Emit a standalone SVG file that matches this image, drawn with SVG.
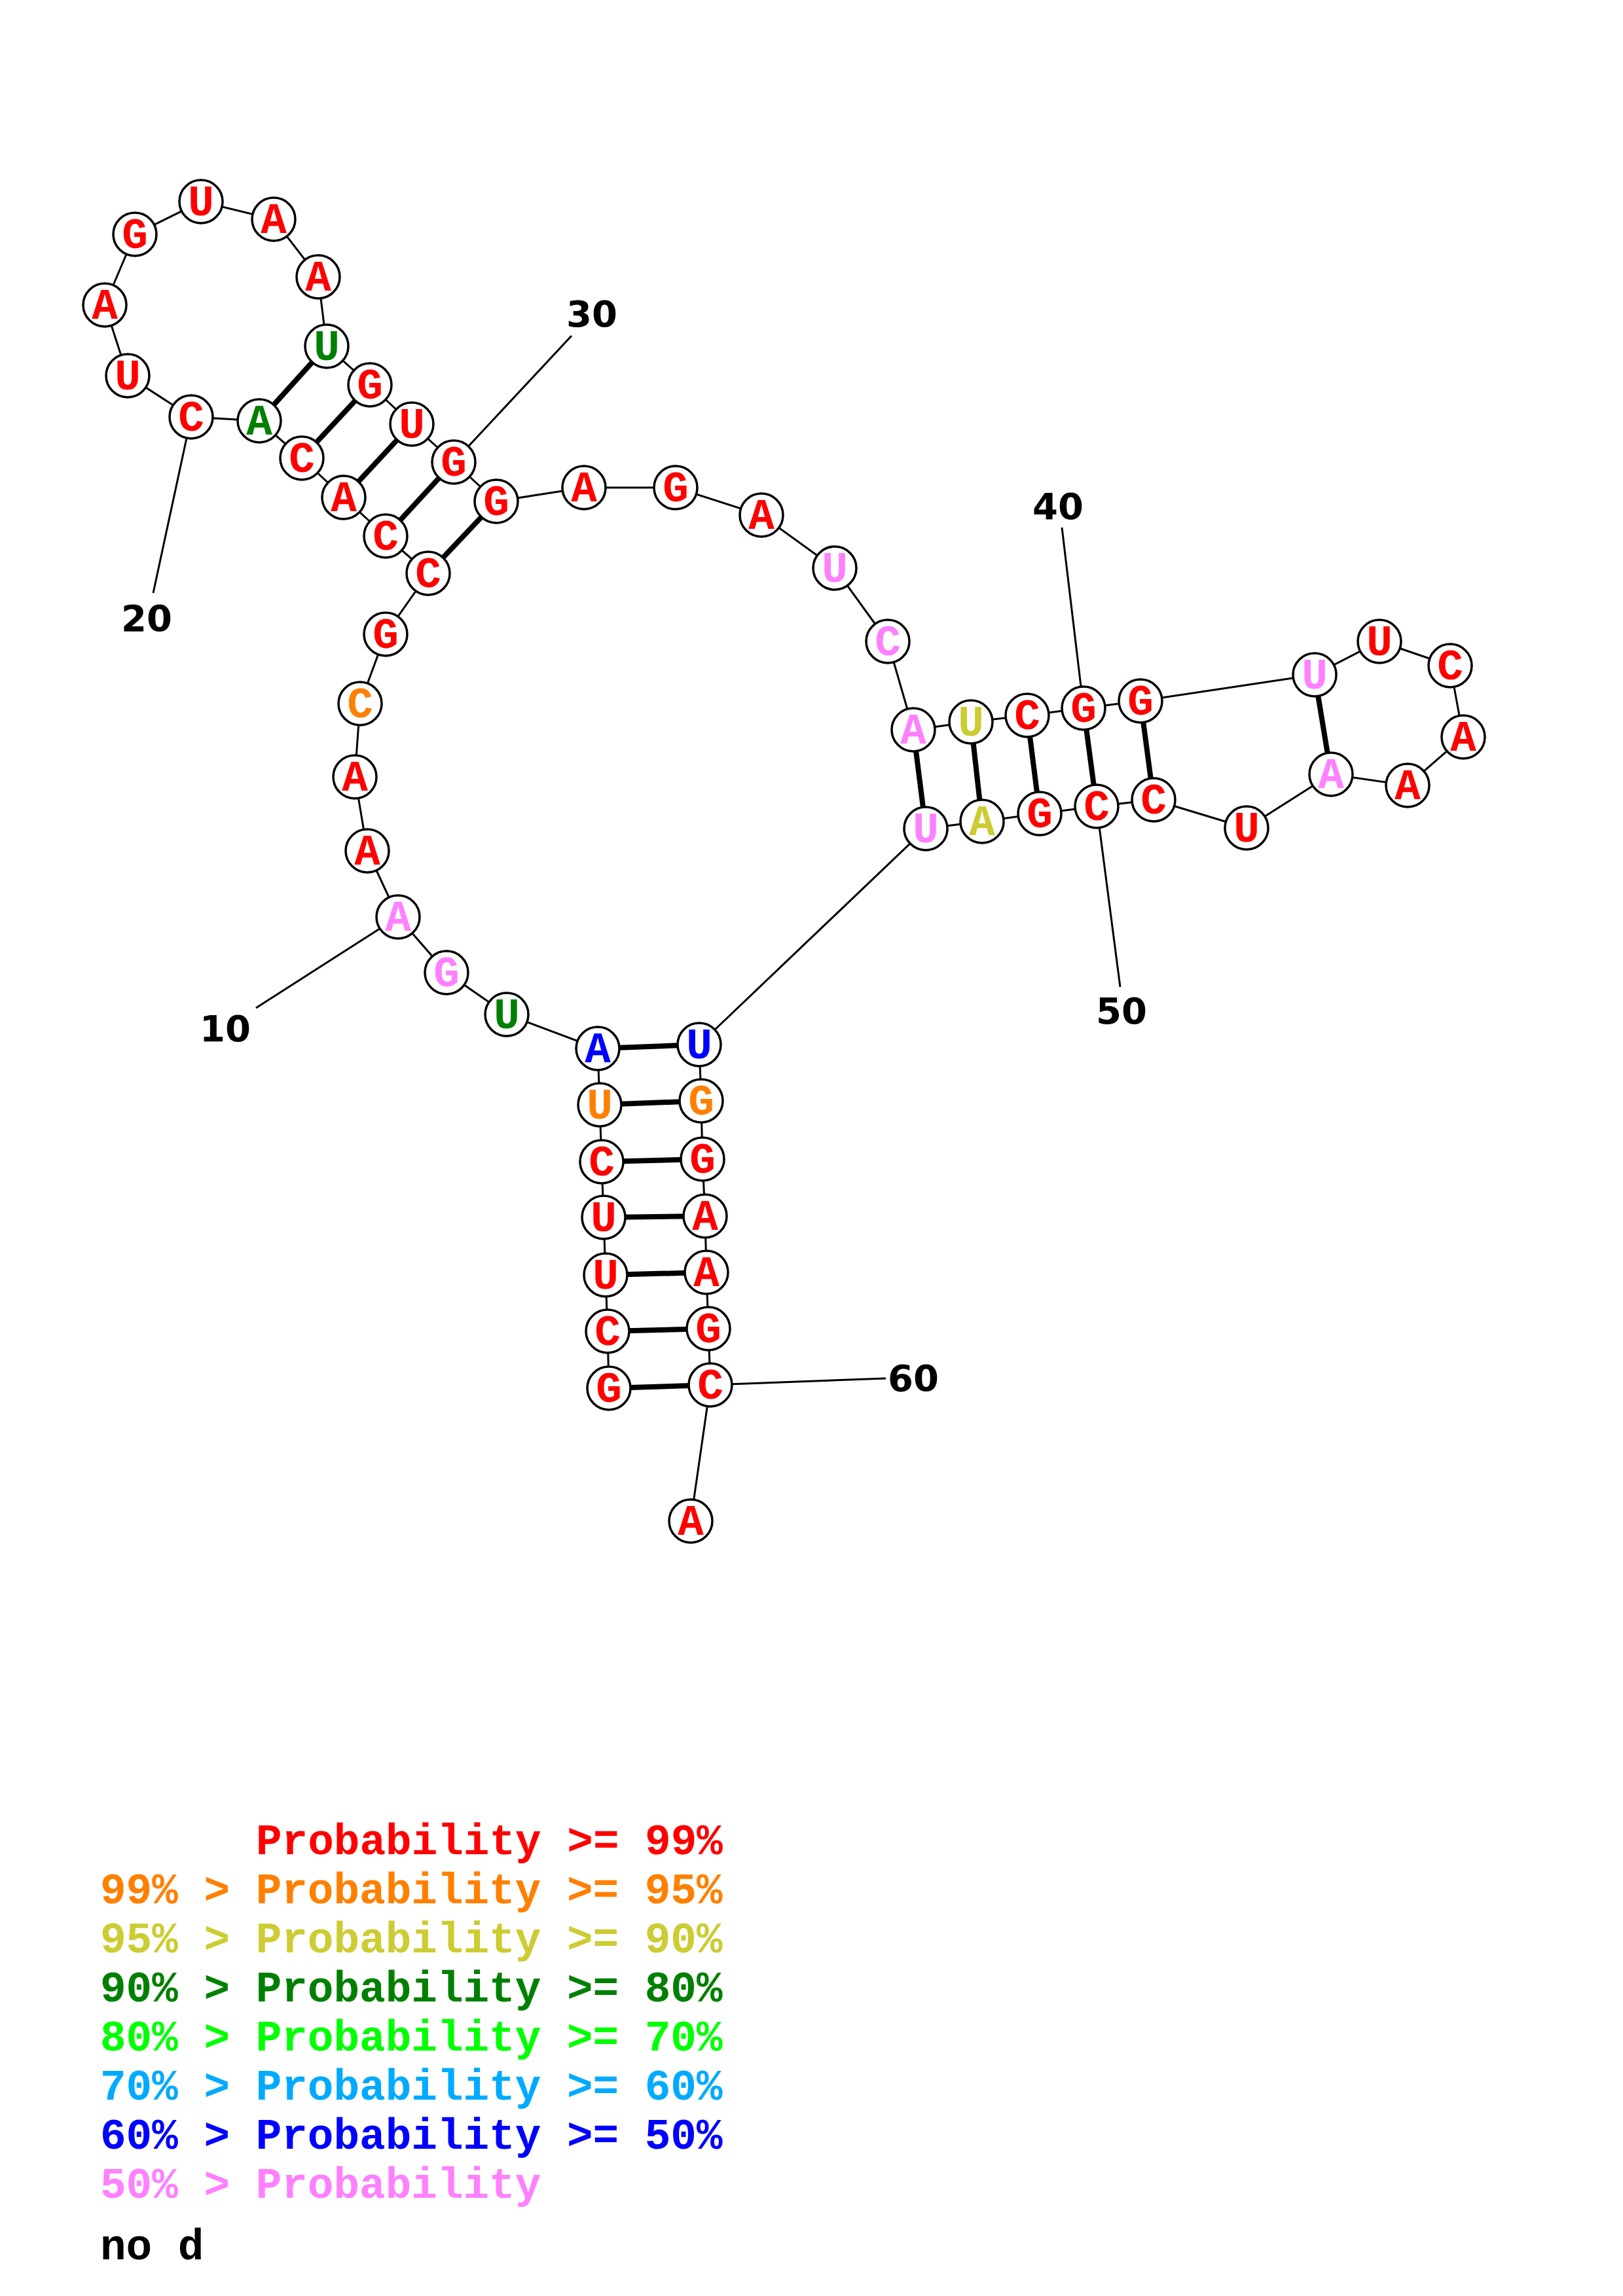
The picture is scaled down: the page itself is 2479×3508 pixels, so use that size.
<svg xmlns="http://www.w3.org/2000/svg" width="2479" height="3508" viewBox="0 0 2479 3508">
<style>
.bb{stroke:#000;stroke-width:3;fill:none}
.pr{stroke:#000;stroke-width:8;fill:none}
.tk{stroke:#000;stroke-width:3;fill:none}
.nd circle{fill:#fff;stroke:#000;stroke-width:3.5}
.nd text{font-family:"Courier New","Nimbus Mono PS","Nimbus Mono L",FreeMono,"Liberation Mono",monospace;font-weight:bold;font-size:66px;text-anchor:middle}
.lb{font-family:"DejaVu Sans",sans-serif;font-weight:bold;font-size:56px;text-anchor:middle;fill:#000}
.lg{font-family:"Courier New","Nimbus Mono PS","Nimbus Mono L",FreeMono,"Liberation Mono",monospace;font-weight:bold;font-size:66px}
.r{fill:#FF0000}.o{fill:#FF8000}.y{fill:#CCCC33}.dg{fill:#008000}.g{fill:#00FF00}.lbl{fill:#00AAFF}.b{fill:#0000FF}.p{fill:#FF80FF}.k{fill:#000}
</style>
<g id="connectors">
<polyline class="bb" points="930,2121 928,2034 925,1948 922,1860 919,1775 916,1688 913,1602 774,1550 682,1486 608,1401 561,1300 542,1187 550,1075 589,969 654,876 589,819 525,760 461,700 396,643 292,637 195,574 160,466 206,358 307,308 418,335 486,423 499,529 565,588 629,648 693,706 758,766 892,745 1032,745 1163,787 1275,868 1356,980 1395,1115 1483,1103 1569,1093 1655,1082 1742,1071 2008,1031 2107,980 2215,1017 2235,1126 2150,1200 2033,1183 1904,1265 1762,1222 1675,1232 1588,1243 1500,1255 1414,1266 1068,1596 1071,1682 1073,1771 1077,1858 1079,1944 1082,2030 1085,2116 1055,2324"/>
<line class="pr" x1="930" y1="2121" x2="1085" y2="2116"/>
<line class="pr" x1="928" y1="2034" x2="1082" y2="2030"/>
<line class="pr" x1="925" y1="1948" x2="1079" y2="1944"/>
<line class="pr" x1="922" y1="1860" x2="1077" y2="1858"/>
<line class="pr" x1="919" y1="1775" x2="1073" y2="1771"/>
<line class="pr" x1="916" y1="1688" x2="1071" y2="1682"/>
<line class="pr" x1="913" y1="1602" x2="1068" y2="1596"/>
<line class="pr" x1="654" y1="876" x2="758" y2="766"/>
<line class="pr" x1="589" y1="819" x2="693" y2="706"/>
<line class="pr" x1="525" y1="760" x2="629" y2="648"/>
<line class="pr" x1="461" y1="700" x2="565" y2="588"/>
<line class="pr" x1="396" y1="643" x2="499" y2="529"/>
<line class="pr" x1="1395" y1="1115" x2="1414" y2="1266"/>
<line class="pr" x1="1483" y1="1103" x2="1500" y2="1255"/>
<line class="pr" x1="1569" y1="1093" x2="1588" y2="1243"/>
<line class="pr" x1="1655" y1="1082" x2="1675" y2="1232"/>
<line class="pr" x1="1742" y1="1071" x2="1762" y2="1222"/>
<line class="pr" x1="2008" y1="1031" x2="2033" y2="1183"/>
<line class="tk" x1="608" y1="1401" x2="391" y2="1540"/>
<line class="tk" x1="292" y1="637" x2="234" y2="906"/>
<line class="tk" x1="693" y1="706" x2="873" y2="513"/>
<line class="tk" x1="1655" y1="1082" x2="1622" y2="806"/>
<line class="tk" x1="1675" y1="1232" x2="1711" y2="1508"/>
<line class="tk" x1="1085" y1="2116" x2="1353" y2="2106"/>
</g>
<g id="n1" class="nd"><circle cx="930" cy="2121" r="33"/><text x="930" y="2142" class="r">G</text></g>
<g id="n2" class="nd"><circle cx="928" cy="2034" r="33"/><text x="928" y="2055" class="r">C</text></g>
<g id="n3" class="nd"><circle cx="925" cy="1948" r="33"/><text x="925" y="1969" class="r">U</text></g>
<g id="n4" class="nd"><circle cx="922" cy="1860" r="33"/><text x="922" y="1881" class="r">U</text></g>
<g id="n5" class="nd"><circle cx="919" cy="1775" r="33"/><text x="919" y="1796" class="r">C</text></g>
<g id="n6" class="nd"><circle cx="916" cy="1688" r="33"/><text x="916" y="1709" class="o">U</text></g>
<g id="n7" class="nd"><circle cx="913" cy="1602" r="33"/><text x="913" y="1623" class="b">A</text></g>
<g id="n8" class="nd"><circle cx="774" cy="1550" r="33"/><text x="774" y="1571" class="dg">U</text></g>
<g id="n9" class="nd"><circle cx="682" cy="1486" r="33"/><text x="682" y="1507" class="p">G</text></g>
<g id="n10" class="nd"><circle cx="608" cy="1401" r="33"/><text x="608" y="1422" class="p">A</text></g>
<g id="n11" class="nd"><circle cx="561" cy="1300" r="33"/><text x="561" y="1321" class="r">A</text></g>
<g id="n12" class="nd"><circle cx="542" cy="1187" r="33"/><text x="542" y="1208" class="r">A</text></g>
<g id="n13" class="nd"><circle cx="550" cy="1075" r="33"/><text x="550" y="1096" class="o">C</text></g>
<g id="n14" class="nd"><circle cx="589" cy="969" r="33"/><text x="589" y="990" class="r">G</text></g>
<g id="n15" class="nd"><circle cx="654" cy="876" r="33"/><text x="654" y="897" class="r">C</text></g>
<g id="n16" class="nd"><circle cx="589" cy="819" r="33"/><text x="589" y="840" class="r">C</text></g>
<g id="n17" class="nd"><circle cx="525" cy="760" r="33"/><text x="525" y="781" class="r">A</text></g>
<g id="n18" class="nd"><circle cx="461" cy="700" r="33"/><text x="461" y="721" class="r">C</text></g>
<g id="n19" class="nd"><circle cx="396" cy="643" r="33"/><text x="396" y="664" class="dg">A</text></g>
<g id="n20" class="nd"><circle cx="292" cy="637" r="33"/><text x="292" y="658" class="r">C</text></g>
<g id="n21" class="nd"><circle cx="195" cy="574" r="33"/><text x="195" y="595" class="r">U</text></g>
<g id="n22" class="nd"><circle cx="160" cy="466" r="33"/><text x="160" y="487" class="r">A</text></g>
<g id="n23" class="nd"><circle cx="206" cy="358" r="33"/><text x="206" y="379" class="r">G</text></g>
<g id="n24" class="nd"><circle cx="307" cy="308" r="33"/><text x="307" y="329" class="r">U</text></g>
<g id="n25" class="nd"><circle cx="418" cy="335" r="33"/><text x="418" y="356" class="r">A</text></g>
<g id="n26" class="nd"><circle cx="486" cy="423" r="33"/><text x="486" y="444" class="r">A</text></g>
<g id="n27" class="nd"><circle cx="499" cy="529" r="33"/><text x="499" y="550" class="dg">U</text></g>
<g id="n28" class="nd"><circle cx="565" cy="588" r="33"/><text x="565" y="609" class="r">G</text></g>
<g id="n29" class="nd"><circle cx="629" cy="648" r="33"/><text x="629" y="669" class="r">U</text></g>
<g id="n30" class="nd"><circle cx="693" cy="706" r="33"/><text x="693" y="727" class="r">G</text></g>
<g id="n31" class="nd"><circle cx="758" cy="766" r="33"/><text x="758" y="787" class="r">G</text></g>
<g id="n32" class="nd"><circle cx="892" cy="745" r="33"/><text x="892" y="766" class="r">A</text></g>
<g id="n33" class="nd"><circle cx="1032" cy="745" r="33"/><text x="1032" y="766" class="r">G</text></g>
<g id="n34" class="nd"><circle cx="1163" cy="787" r="33"/><text x="1163" y="808" class="r">A</text></g>
<g id="n35" class="nd"><circle cx="1275" cy="868" r="33"/><text x="1275" y="889" class="p">U</text></g>
<g id="n36" class="nd"><circle cx="1356" cy="980" r="33"/><text x="1356" y="1001" class="p">C</text></g>
<g id="n37" class="nd"><circle cx="1395" cy="1115" r="33"/><text x="1395" y="1136" class="p">A</text></g>
<g id="n38" class="nd"><circle cx="1483" cy="1103" r="33"/><text x="1483" y="1124" class="y">U</text></g>
<g id="n39" class="nd"><circle cx="1569" cy="1093" r="33"/><text x="1569" y="1114" class="r">C</text></g>
<g id="n40" class="nd"><circle cx="1655" cy="1082" r="33"/><text x="1655" y="1103" class="r">G</text></g>
<g id="n41" class="nd"><circle cx="1742" cy="1071" r="33"/><text x="1742" y="1092" class="r">G</text></g>
<g id="n42" class="nd"><circle cx="2008" cy="1031" r="33"/><text x="2008" y="1052" class="p">U</text></g>
<g id="n43" class="nd"><circle cx="2107" cy="980" r="33"/><text x="2107" y="1001" class="r">U</text></g>
<g id="n44" class="nd"><circle cx="2215" cy="1017" r="33"/><text x="2215" y="1038" class="r">C</text></g>
<g id="n45" class="nd"><circle cx="2235" cy="1126" r="33"/><text x="2235" y="1147" class="r">A</text></g>
<g id="n46" class="nd"><circle cx="2150" cy="1200" r="33"/><text x="2150" y="1221" class="r">A</text></g>
<g id="n47" class="nd"><circle cx="2033" cy="1183" r="33"/><text x="2033" y="1204" class="p">A</text></g>
<g id="n48" class="nd"><circle cx="1904" cy="1265" r="33"/><text x="1904" y="1286" class="r">U</text></g>
<g id="n49" class="nd"><circle cx="1762" cy="1222" r="33"/><text x="1762" y="1243" class="r">C</text></g>
<g id="n50" class="nd"><circle cx="1675" cy="1232" r="33"/><text x="1675" y="1253" class="r">C</text></g>
<g id="n51" class="nd"><circle cx="1588" cy="1243" r="33"/><text x="1588" y="1264" class="r">G</text></g>
<g id="n52" class="nd"><circle cx="1500" cy="1255" r="33"/><text x="1500" y="1276" class="y">A</text></g>
<g id="n53" class="nd"><circle cx="1414" cy="1266" r="33"/><text x="1414" y="1287" class="p">U</text></g>
<g id="n54" class="nd"><circle cx="1068" cy="1596" r="33"/><text x="1068" y="1617" class="b">U</text></g>
<g id="n55" class="nd"><circle cx="1071" cy="1682" r="33"/><text x="1071" y="1703" class="o">G</text></g>
<g id="n56" class="nd"><circle cx="1073" cy="1771" r="33"/><text x="1073" y="1792" class="r">G</text></g>
<g id="n57" class="nd"><circle cx="1077" cy="1858" r="33"/><text x="1077" y="1879" class="r">A</text></g>
<g id="n58" class="nd"><circle cx="1079" cy="1944" r="33"/><text x="1079" y="1965" class="r">A</text></g>
<g id="n59" class="nd"><circle cx="1082" cy="2030" r="33"/><text x="1082" y="2051" class="r">G</text></g>
<g id="n60" class="nd"><circle cx="1085" cy="2116" r="33"/><text x="1085" y="2137" class="r">C</text></g>
<g id="n61" class="nd"><circle cx="1055" cy="2324" r="33"/><text x="1055" y="2345" class="r">A</text></g>
<g id="labels">
<text class="lb" x="344" y="1591">10</text>
<text class="lb" x="224" y="964">20</text>
<text class="lb" x="904" y="499">30</text>
<text class="lb" x="1616" y="793">40</text>
<text class="lb" x="1713" y="1564">50</text>
<text class="lb" x="1395" y="2125">60</text>
</g>
<g id="legend" class="lg">
<text x="391" y="2833" class="r">Probability &gt;= 99%</text>
<text x="153" y="2908" class="o">99% &gt; Probability &gt;= 95%</text>
<text x="153" y="2983" class="y">95% &gt; Probability &gt;= 90%</text>
<text x="153" y="3058" class="dg">90% &gt; Probability &gt;= 80%</text>
<text x="153" y="3133" class="g">80% &gt; Probability &gt;= 70%</text>
<text x="153" y="3208" class="lbl">70% &gt; Probability &gt;= 60%</text>
<text x="153" y="3283" class="b">60% &gt; Probability &gt;= 50%</text>
<text x="153" y="3358" class="p">50% &gt; Probability</text>
<text x="153" y="3452" class="k">no d</text>
</g>
</svg>
